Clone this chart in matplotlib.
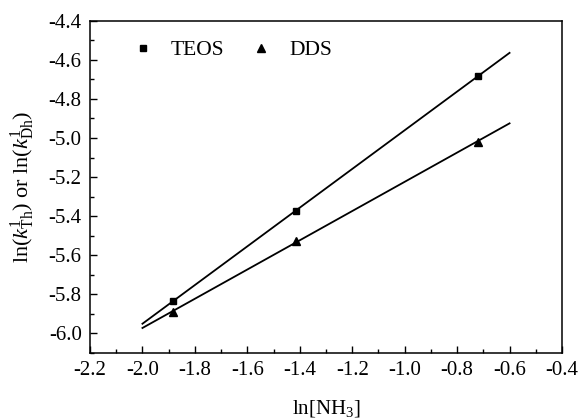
import numpy as np
import matplotlib
matplotlib.use("Agg")
import matplotlib.pyplot as plt
from matplotlib.ticker import MultipleLocator

plt.rcParams['font.family'] = ['Liberation Serif', 'DejaVu Serif']
plt.rcParams['mathtext.fontset'] = 'custom'
plt.rcParams['mathtext.rm'] = 'Liberation Serif'
plt.rcParams['mathtext.it'] = 'Liberation Serif:italic'

ln_nh3 = [-1.883, -1.414, -0.721]
teos = [-5.834, -5.371, -4.684]
dds = [-5.888, -5.528, -5.018]
fit_range = [-2.0, -0.6]

fig = plt.figure(figsize=(5.8, 4.18), dpi=100)
ax = fig.add_axes([90/580, 1-353/418, (562-90)/580, (353-20.7)/418])

xf = np.array(fit_range)
for y, m, ms, lab in [(teos, 's', 4.5, 'TEOS'), (dds, '^', 6, 'DDS')]:
    p = np.polyfit(ln_nh3, y, 1)
    ax.plot(xf, np.polyval(p, xf), color='black', lw=1.3)
    ax.plot(ln_nh3, y, ls='none', marker=m, ms=ms, color='black', label=lab)

ax.set_xlim(-2.2, -0.4)
ax.set_ylim(-6.1, -4.4)
ax.xaxis.set_minor_locator(MultipleLocator(0.1))
ax.yaxis.set_minor_locator(MultipleLocator(0.1))
xt = np.arange(-2.2, -0.39, 0.2)
yt = np.arange(-6.0, -4.39, 0.2)
ax.set_xticks(xt)
ax.set_xticklabels(['%.1f' % v for v in xt])
ax.set_yticks(yt)
ax.set_yticklabels(['%.1f' % v for v in yt])
ax.tick_params(which='both', direction='in', top=False, right=False, labelsize=15)
ax.tick_params(which='major', length=5, width=1, pad=6)
ax.tick_params(which='minor', length=3, width=1)
for s in ax.spines.values():
    s.set_linewidth(1.1)

ax.set_xlabel('ln[NH$_3$]', fontsize=15, labelpad=13)
ax.set_ylabel(r'ln($k^{1}_{\mathrm{Th}}$) or ln($k^{1}_{\mathrm{Dh}}$)', fontsize=16, labelpad=8)

ax.legend(loc='upper left', ncol=2, frameon=False, fontsize=15.5,
          bbox_to_anchor=(0.048, 1.0), handlelength=1.0, columnspacing=1.2,
          handletextpad=0.8)

fig.savefig('out.png', dpi=100)
